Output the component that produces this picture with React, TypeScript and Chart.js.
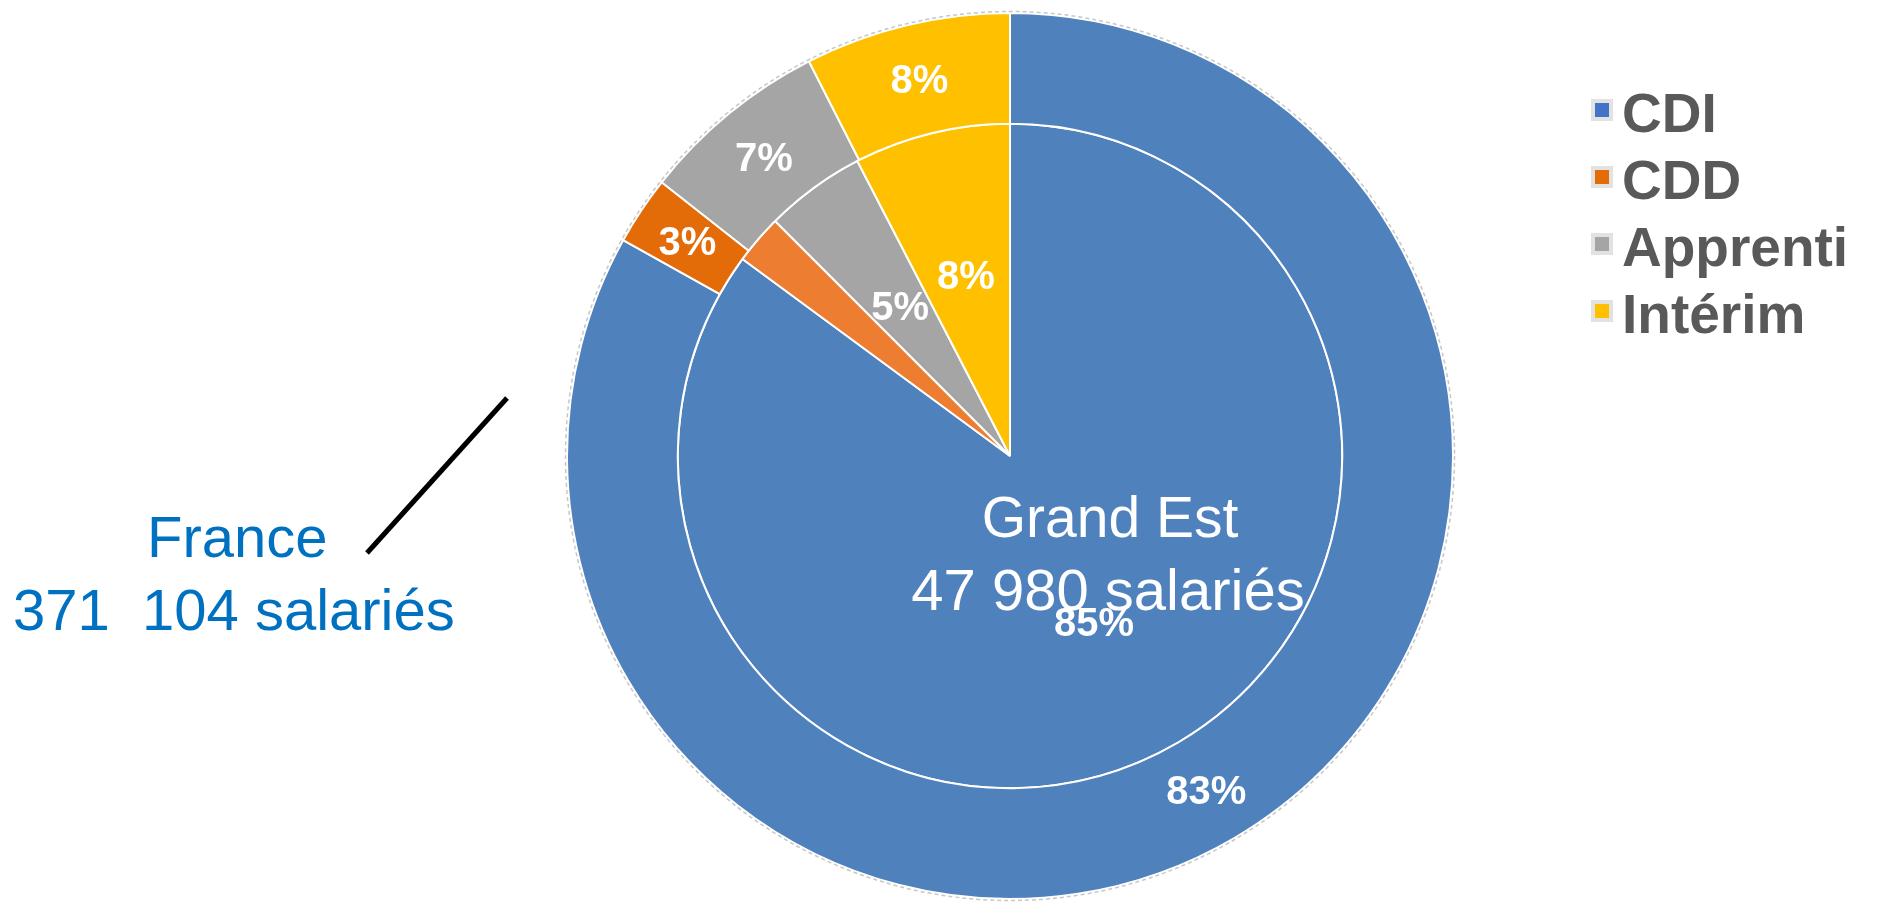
import React, { useEffect, useRef } from "react";
import { Chart, registerables } from "chart.js";

Chart.register(...registerables);

const categories = ["CDI", "CDD", "Apprenti", "Intérim"];
const franceValues = [83.1, 2.5, 6.9, 7.5];
const grandEstValues = [85.1, 2.4, 4.9, 7.6];
const franceLabels = ["83%", "3%", "7%", "8%"];
const grandEstLabels = ["85%", "", "5%", "8%"];
const outerColors = ["#4F81BD", "#E36C09", "#A5A5A5", "#FFC000"];
const innerColors = ["#4F81BD", "#ED7D31", "#A5A5A5", "#FFC000"];
const legendColors = ["#4472C4", "#E36C09", "#A5A5A5", "#FFC000"];

const FONT = "'Liberation Sans', Arial, Helvetica, sans-serif";

const sliceLabelPlugin = {
  id: "sliceLabels",
  afterDatasetsDraw(chart: any) {
    const ctx = chart.ctx;
    const labelSets = [franceLabels, grandEstLabels];
    ctx.save();
    const m0 = chart.getDatasetMeta(0);
    if (m0.data.length) {
      const a = m0.data[0];
      ctx.beginPath();
      ctx.setLineDash([4, 3]);
      ctx.strokeStyle = "rgba(185,185,185,0.8)";
      ctx.lineWidth = 1.5;
      ctx.arc(a.x, a.y, a.outerRadius + 1.5, 0, Math.PI * 2);
      ctx.stroke();
      ctx.setLineDash([]);
    }
    ctx.fillStyle = "#FFFFFF";
    ctx.font = `bold 40px ${FONT}`;
    ctx.textAlign = "center";
    ctx.textBaseline = "alphabetic";
    chart.data.datasets.forEach((_ds: any, di: number) => {
      const meta = chart.getDatasetMeta(di);
      meta.data.forEach((arc: any, i: number) => {
        const txt = labelSets[di][i];
        if (!txt) return;
        const { startAngle, endAngle, innerRadius, outerRadius, x, y } = arc.getProps(
          ["startAngle", "endAngle", "innerRadius", "outerRadius", "x", "y"],
          true
        );
        const mid = (startAngle + endAngle) / 2;
        const f = innerRadius < 1 ? 0.56 : 0.5;
        const r = innerRadius + (outerRadius - innerRadius) * f;
        ctx.fillText(txt, x + Math.cos(mid) * r, y + Math.sin(mid) * r + 14);
      });
    });
    ctx.restore();
  },
};

const annotationPlugin = {
  id: "annotations",
  afterDraw(chart: any) {
    const ctx = chart.ctx;
    ctx.save();
    ctx.fillStyle = "#FFFFFF";
    ctx.font = `57px ${FONT}`;
    ctx.textAlign = "center";
    ctx.textBaseline = "alphabetic";
    ctx.fillText("Grand Est", 1110, 537);
    ctx.font = `58px ${FONT}`;
    ctx.fillText("47 980 salariés", 1108, 610);

    ctx.fillStyle = "#0070C0";
    ctx.textAlign = "left";
    ctx.font = `58px ${FONT}`;
    ctx.fillText("France", 147, 557);
    ctx.fillText("371  104 salariés", 13, 630);

    ctx.beginPath();
    ctx.strokeStyle = "#000000";
    ctx.lineWidth = 5;
    ctx.moveTo(367, 553);
    ctx.lineTo(507, 398);
    ctx.stroke();
    ctx.restore();
  },
};

export default function App() {
  const canvasRef = useRef<HTMLCanvasElement | null>(null);

  useEffect(() => {
    if (!canvasRef.current) return;
    const chart = new Chart(canvasRef.current, {
      type: "pie",
      data: {
        labels: categories,
        datasets: [
          {
            label: "France",
            data: franceValues,
            backgroundColor: outerColors,
            borderColor: "#FFFFFF",
            borderWidth: 2,
            weight: 1,
          } as any,
          {
            label: "Grand Est",
            data: grandEstValues,
            backgroundColor: innerColors,
            borderColor: "#FFFFFF",
            borderWidth: 2,
            weight: 3,
          } as any,
        ],
      },
      options: {
        animation: false,
        responsive: false,
        devicePixelRatio: 1,
        layout: { padding: { left: 566, right: 425, top: 12, bottom: 5 } },
        plugins: {
          legend: { display: false },
          tooltip: { enabled: false },
        },
      },
      plugins: [sliceLabelPlugin, annotationPlugin],
    });
    return () => chart.destroy();
  }, []);

  return (
    <div style={{ position: "absolute", left: 0, top: 0, width: 1879, height: 905, background: "#FFFFFF" }}>
      <canvas ref={canvasRef} width={1879} height={905} style={{ display: "block" }} />
      <div style={{ position: "absolute", left: 1589, top: 80 }}>
        {categories.map((c, i) => (
          <div
            key={c}
            style={{
              position: "relative",
              height: 67,
              lineHeight: "67px",
              fontFamily: FONT,
              fontWeight: "bold",
              fontSize: 55,
              color: "#595959",
              whiteSpace: "nowrap",
              paddingLeft: 33,
            }}
          >
            <span
              style={{
                position: "absolute",
                left: 2,
                top: 19,
                width: 14,
                height: 14,
                background: legendColors[i],
                border: "4px solid #E2E2E2",
              }}
            />
            {c}
          </div>
        ))}
      </div>
    </div>
  );
}
